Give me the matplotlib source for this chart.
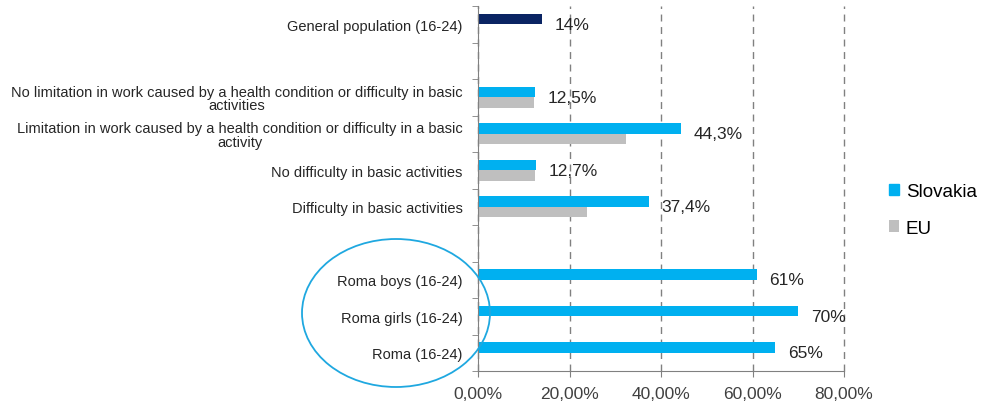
import numpy as np
import matplotlib.pyplot as plt
from matplotlib.patches import Ellipse
from matplotlib.ticker import FuncFormatter, FixedLocator

categories = [
    "General population (16-24)",
    "",
    "No limitation in work caused by a health condition or difficulty in basic\nactivities",
    "Limitation in work caused by a health condition or difficulty in a basic\nactivity",
    "No difficulty in basic activities",
    "Difficulty in basic activities",
    "",
    "Roma boys (16-24)",
    "Roma girls (16-24)",
    "Roma (16-24)",
]
slovakia = [14, np.nan, 12.5, 44.3, 12.7, 37.4, np.nan, 61, 70, 65]
eu = [np.nan, np.nan, 12.2, 32.3, 12.4, 23.9, np.nan, np.nan, np.nan, np.nan]
value_labels = ["14%", "", "12,5%", "44,3%", "12,7%", "37,4%", "", "61%", "70%", "65%"]

blue = "#00B0F0"
grey = "#BFBFBF"
navy = "#0A2463"

plt.rcParams['font.family'] = ['Liberation Sans', 'DejaVu Sans']

fig = plt.figure(figsize=(9.84, 4.10), dpi=100)
ax = fig.add_axes([478 / 984, 38 / 410, 366 / 984, 365 / 410])

y = np.arange(len(categories))
h = 0.29
colors = [navy if i == 0 else blue for i in range(len(categories))]
ax.barh(y - h / 2, slovakia, h, color=colors, label="Slovakia")
ax.barh(y + h / 2, eu, h, color=grey, label="EU")

for yi, v, t in zip(y, slovakia, value_labels):
    if t:
        ax.annotate(t, (v, yi), xytext=(9, 0), textcoords="offset points",
                    va="center", ha="left", fontsize=12.5, color="#262626")

ax.set_xlim(0, 80)
ax.set_ylim(len(categories) - 0.5, -0.5)
ax.set_xticks([0, 20, 40, 60, 80])
ax.xaxis.set_major_formatter(FuncFormatter(lambda v, p: f"{v:.2f}%".replace(".", ",")))
ax.tick_params(axis="x", labelsize=12.5, labelcolor="#404040", color="#808080",
               length=4, pad=7)

ax.set_yticks(y)
ax.set_yticklabels(categories, fontsize=10.5, color="#262626",
                   multialignment="center", linespacing=0.95)
ax.tick_params(axis="y", length=0, pad=11)
ax.yaxis.set_minor_locator(FixedLocator(np.arange(-0.5, len(categories), 1)))
ax.tick_params(axis="y", which="minor", length=4, color="#808080")

ax.grid(axis="x", linestyle=(0, (5, 4)), color="#808080", linewidth=1)
for gl in ax.get_xgridlines():
    gl.set_clip_on(False)
ax.set_axisbelow(True)
for s in ["top", "right"]:
    ax.spines[s].set_visible(False)
for s in ["left", "bottom"]:
    ax.spines[s].set_color("#808080")
    ax.spines[s].set_zorder(3)

leg = fig.legend(loc="upper left", bbox_to_anchor=(872 / 984, 1 - 167 / 410),
                 frameon=False, fontsize=13.5, handlelength=0.55, handleheight=0.55,
                 handletextpad=0.35, labelspacing=1.05)
leg.legend_handles[0].set_color(blue)

fig.add_artist(Ellipse((396 / 984, 1 - 314 / 410), 188 / 984, 148 / 410,
                       transform=fig.transFigure, fill=False,
                       edgecolor="#1FA8E0", linewidth=1.3))

fig.savefig("out.png", dpi=100)
